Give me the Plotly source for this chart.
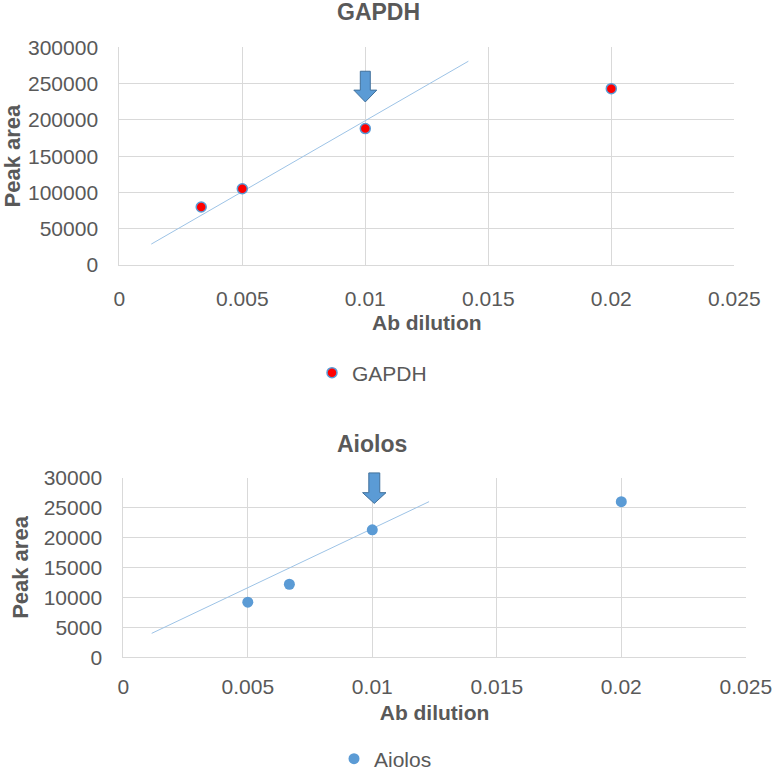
import plotly.graph_objects as go

# ---- data ----
gapdh_x = [0.00333, 0.005, 0.01, 0.02]
gapdh_y = [80000, 105000, 188000, 243000]
gapdh_trend_x = [0.0013, 0.01419]
gapdh_trend_y = [28800, 280800]

aiolos_x = [0.005, 0.00667, 0.01, 0.02]
aiolos_y = [9200, 12200, 21300, 26000]
aiolos_trend_x = [0.00114, 0.01228]
aiolos_trend_y = [4000, 26000]

x_ticks = [0, 0.005, 0.01, 0.015, 0.02, 0.025]
x_tick_text = ["0", "0.005", "0.01", "0.015", "0.02", "0.025"]
gapdh_y_ticks = [0, 50000, 100000, 150000, 200000, 250000, 300000]
aiolos_y_ticks = [0, 5000, 10000, 15000, 20000, 25000, 30000]

W, H = 777, 772
FONT = "Liberation Sans, Arial, sans-serif"
GREY = "#595959"
GRID = "#d9d9d9"

top_xdom = [119.3 / W, 734.3 / W]
top_ydom = [1 - 265 / H, 1 - 47.3 / H]
bot_xdom = [123.3 / W, 745.8 / W]
bot_ydom = [1 - 657.3 / H, 1 - 477.7 / H]

fig = go.Figure()

fig.add_trace(go.Scatter(x=gapdh_trend_x, y=gapdh_trend_y, mode="lines",
                         line=dict(color="#9dc3e6", width=1), showlegend=False,
                         xaxis="x", yaxis="y", hoverinfo="skip"))
fig.add_trace(go.Scatter(x=gapdh_x, y=gapdh_y, mode="markers", name="GAPDH",
                         marker=dict(color="#ff0000", size=10,
                                     line=dict(color="#5b9bd5", width=1.5)),
                         xaxis="x", yaxis="y", legend="legend"))

fig.add_trace(go.Scatter(x=aiolos_trend_x, y=aiolos_trend_y, mode="lines",
                         line=dict(color="#9dc3e6", width=1), showlegend=False,
                         xaxis="x2", yaxis="y2", hoverinfo="skip"))
fig.add_trace(go.Scatter(x=aiolos_x, y=aiolos_y, mode="markers", name="Aiolos",
                         marker=dict(color="#5b9bd5", size=11),
                         xaxis="x2", yaxis="y2", legend="legend2"))

tickfont = dict(family=FONT, size=21, color=GREY)
xtitlefont = dict(family=FONT, size=21, color=GREY, weight="bold")
ytitlefont = dict(family=FONT, size=22, color=GREY, weight="bold")

def xax(dom, anchor, lab_standoff, title_standoff):
    return dict(domain=dom, anchor=anchor, range=[0, 0.025], tickvals=x_ticks,
                ticktext=x_tick_text, showgrid=True, gridcolor=GRID, gridwidth=1,
                zeroline=False, showline=True, linecolor=GRID, ticks="",
                tickfont=tickfont, ticklabelstandoff=lab_standoff, automargin=False,
                title=dict(text="Ab dilution", font=xtitlefont, standoff=title_standoff))

def yax(dom, anchor, rng, ticks):
    return dict(domain=dom, anchor=anchor, range=rng, tickvals=ticks,
                ticktext=[str(t) for t in ticks],
                showgrid=True, gridcolor=GRID, gridwidth=1, zeroline=False,
                showline=True, linecolor=GRID, ticks="", tickfont=tickfont,
                ticklabelstandoff=16, automargin=False,
                title=dict(text="Peak area", font=ytitlefont, standoff=8))

def to_paper(xv, yv, xdom, ydom, xr, yr):
    px = xdom[0] + (xv - xr[0]) / (xr[1] - xr[0]) * (xdom[1] - xdom[0])
    py = ydom[0] + (yv - yr[0]) / (yr[1] - yr[0]) * (ydom[1] - ydom[0])
    return px, py

def arrow_path(cx, top, neck, tip, shaft_hw, head_hw, xdom, ydom, xr, yr):
    pts = [(cx - shaft_hw, top), (cx + shaft_hw, top), (cx + shaft_hw, neck),
           (cx + head_hw, neck), (cx, tip), (cx - head_hw, neck),
           (cx - shaft_hw, neck)]
    pp = [to_paper(a, b, xdom, ydom, xr, yr) for a, b in pts]
    return "M " + " L ".join(f"{a:.5f},{b:.5f}" for a, b in pp) + " Z"

shapes = [
    dict(type="path", xref="paper", yref="paper",
         path=arrow_path(0.01, 267000, 241000, 224700, 0.000203, 0.000467,
                         top_xdom, top_ydom, [0, 0.025], [0, 300000]),
         fillcolor="#5b9bd5", line=dict(color="#41719c", width=1)),
    dict(type="path", xref="paper", yref="paper",
         path=arrow_path(0.01008, 30800, 27500, 25700, 0.00022, 0.00047,
                         bot_xdom, bot_ydom, [0, 0.025], [0, 30000]),
         fillcolor="#5b9bd5", line=dict(color="#41719c", width=1)),
]

annotations = [
    dict(text="GAPDH", x=378 / W, y=1 - 12 / H, xref="paper", yref="paper",
         showarrow=False, xanchor="center", yanchor="middle",
         font=dict(family=FONT, size=23, color=GREY, weight="bold")),
    dict(text="Aiolos", x=372 / W, y=1 - 444 / H, xref="paper", yref="paper",
         showarrow=False, xanchor="center", yanchor="middle",
         font=dict(family=FONT, size=23, color=GREY, weight="bold")),
]

legfont = dict(family=FONT, size=21, color=GREY)
fig.update_layout(
    width=W, height=H, margin=dict(l=0, r=0, t=0, b=0, autoexpand=False),
    paper_bgcolor="white", plot_bgcolor="white",
    xaxis=xax(top_xdom, "y", 15, 6),
    yaxis=yax(top_ydom, "x", [0, 300000], gapdh_y_ticks),
    xaxis2=xax(bot_xdom, "y2", 10, 8),
    yaxis2=yax(bot_ydom, "x2", [0, 30000], aiolos_y_ticks),
    legend=dict(x=312 / W, y=1 - 373 / H, xanchor="left", yanchor="middle",
                font=legfont, bgcolor="rgba(0,0,0,0)", itemwidth=30),
    legend2=dict(x=334 / W, y=1 - 759 / H, xanchor="left", yanchor="middle",
                 font=legfont, bgcolor="rgba(0,0,0,0)", itemwidth=30),
    shapes=shapes, annotations=annotations,
)

fig.write_html("out.html", config={"displayModeBar": False},
               post_script="document.body.style.margin='0';")
